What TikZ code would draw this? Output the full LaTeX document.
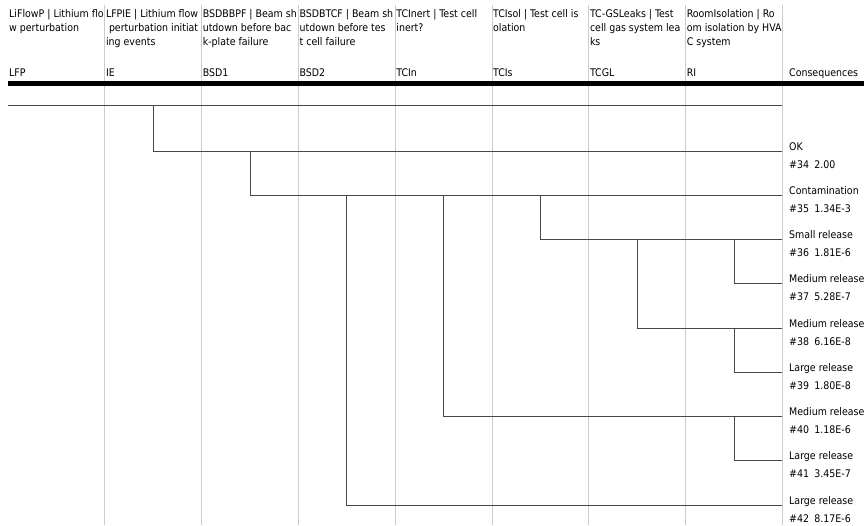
\documentclass[tikz,border=0pt]{standalone}
\usepackage{fontspec}
\setmainfont{DejaVu Sans Condensed}
\usepackage{tikz}

\begin{document}
\begin{tikzpicture}[x=1pt, y=-1pt,
  sep/.style={draw=black!20, line width=0.9pt},
  branch/.style={draw=black!72, line width=1pt},
  head/.style={anchor=north west, align=left, inner sep=0pt, font=\fontsize{10.5}{14}\selectfont},
  cons/.style={anchor=base west, inner sep=0pt, font=\fontsize{10.5}{12}\selectfont}]
  \useasboundingbox (0,0) rectangle (864,525);

  % Column separators
  \foreach \i in {1,...,8}
    \draw[sep] (8+96.8*\i,5) -- (8+96.8*\i,525);

  % Headers: description and code of each event
  \foreach \i/\code/\txt in {
      0/LFP/{LiFlowP | Lithium flo\\w perturbation},
      1/IE/{LFPIE | Lithium flow\\\ perturbation initiat\\ing events},
      2/BSD1/{BSDBBPF | Beam sh\\utdown before bac\\k-plate failure},
      3/BSD2/{BSDBTCF | Beam sh\\utdown before tes\\t cell failure},
      4/TCIn/{TCInert | Test cell\\inert?},
      5/TCIs/{TCIsol | Test cell is\\olation},
      6/TCGL/{TC-GSLeaks | Test\\cell gas system lea\\ks},
      7/RI/{RoomIsolation | Ro\\om isolation by HVA\\C system}} {
    \node[head] (h\code) at (9+96.8*\i,9) {\txt};
    \node[cons] (k\code) at (9+96.8*\i,76) {\code};
    \coordinate (\code) at (8+96.8*\i+48.4,0);
  }
  \node[cons] (kCons) at (789,76) {Consequences};

  % Heavy rule under the headers
  \draw[line width=5pt] (8,83.5) -- (864,83.5);

  % End points and consequences
  \foreach \n/\y/\name/\val in {
      34/151/OK/2.00,
      35/195.5/Contamination/1.34E-3,
      36/239.5/Small release/1.81E-6,
      37/283.75/Medium release/5.28E-7,
      38/328/Medium release/6.16E-8,
      39/372.25/Large release/1.80E-8,
      40/416.5/Medium release/1.18E-6,
      41/460.75/Large release/3.45E-7,
      42/505/Large release/8.17E-6} {
    \coordinate (e\n) at (782,\y);
    \node[cons] (c\n) at (789,\y-1) {\name};
    \node[cons] (f\n) at (789,\y+17) {\#\n\enspace\val};
  }

  % Event tree
  \coordinate (start) at (8,105);
  \coordinate (top) at (782,105);
  \draw[branch] (start) -- (top);
  \draw[branch] (IE |- start) |- (e34);
  \draw[branch] (BSD1 |- e34) |- (e35);
  \draw[branch] (BSD2 |- e35) |- (e42);
  \draw[branch] (TCIn |- e35) |- (e40);
  \draw[branch] (TCIs |- e35) |- (e36);
  \draw[branch] (TCGL |- e36) |- (e38);
  \draw[branch] (RI |- e36) |- (e37);
  \draw[branch] (RI |- e38) |- (e39);
  \draw[branch] (RI |- e40) |- (e41);
\end{tikzpicture}
\end{document}
